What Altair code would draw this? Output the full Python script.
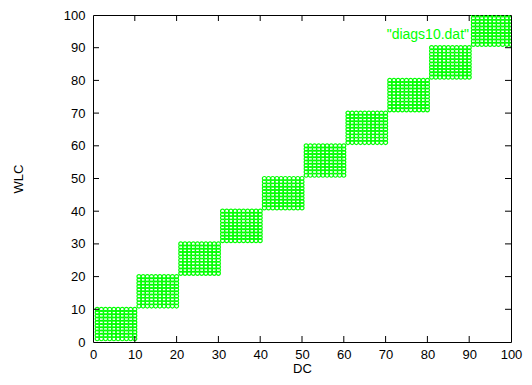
import altair as alt
import pandas as pd

blocks = list(range(10))          # block index 0..9
offsets = list(range(1, 11))      # positions 1..10 within each block
xticks = [0, 10, 20, 30, 40, 50, 60, 70, 80, 90, 100]
yticks = [0, 10, 20, 30, 40, 50, 60, 70, 80, 90, 100]
legend_label = ['"diags10.dat"']

rows = []
for b in blocks:
    for i in offsets:
        for j in offsets:
            rows.append({"DC": 10 * b + i, "WLC": 10 * b + j})
df = pd.DataFrame(rows)

W, H = 418, 327
GREEN = "#00ff00"
FONT = "Liberation Sans"

xs = alt.Scale(domain=[0, 100], nice=False, zero=False)
ys = alt.Scale(domain=[0, 100], nice=False, zero=False)

xaxis = alt.Axis(values=xticks, ticks=False, domain=False, grid=False,
                 labelOverlap=False, labelFlush=False,
                 labelFont=FONT, labelFontSize=13, labelColor="black",
                 labelPadding=6, titleFont=FONT, titleFontSize=13,
                 titleFontWeight="normal", titlePadding=1, titleColor="black")
yaxis = alt.Axis(values=yticks, ticks=False, domain=False, grid=False,
                 labelOverlap=False, labelFlush=False,
                 labelFont=FONT, labelFontSize=13, labelColor="black",
                 labelPadding=8, titleFont=FONT, titleFontSize=13,
                 titleFontWeight="normal", titlePadding=38, titleColor="black")

pts = alt.Chart(df).mark_point(shape="circle", size=16, filled=False,
                               stroke=GREEN, strokeWidth=1.2, opacity=1, clip=True).encode(
    x=alt.X("DC:Q", scale=xs, title="DC", axis=xaxis),
    y=alt.Y("WLC:Q", scale=ys, title="WLC", axis=yaxis),
)

xt = pd.DataFrame({"v": xticks[1:-1]})
yt = pd.DataFrame({"v": yticks[1:-1]})
tb = alt.Chart(xt).mark_rule(color="black", strokeWidth=1).encode(
    x=alt.X("v:Q", scale=xs, title="DC", axis=xaxis), y=alt.value(H), y2=alt.value(H - 6))
tt = alt.Chart(xt).mark_rule(color="black", strokeWidth=1).encode(
    x=alt.X("v:Q", scale=xs, title="DC", axis=xaxis), y=alt.value(0), y2=alt.value(6))
tl = alt.Chart(yt).mark_rule(color="black", strokeWidth=1).encode(
    y=alt.Y("v:Q", scale=ys, title="WLC", axis=yaxis), x=alt.value(0), x2=alt.value(6))
tr = alt.Chart(yt).mark_rule(color="black", strokeWidth=1).encode(
    y=alt.Y("v:Q", scale=ys, title="WLC", axis=yaxis), x=alt.value(W), x2=alt.value(W - 6))

leg = alt.Chart(pd.DataFrame({"t": legend_label})).mark_text(
    font=FONT, fontSize=14, color=GREEN, align="right", baseline="middle").encode(
    text="t:N", x=alt.value(376), y=alt.value(20))

chart = alt.layer(pts, tb, tt, tl, tr, leg).properties(
    width=W, height=H,
    padding={"left": 85, "top": 7, "right": 13, "bottom": 35},
    autosize=alt.AutoSizeParams(type="none"),
).configure_view(stroke="black", strokeWidth=1)

chart.save("out.html", embed_options={"renderer": "svg", "actions": False})
